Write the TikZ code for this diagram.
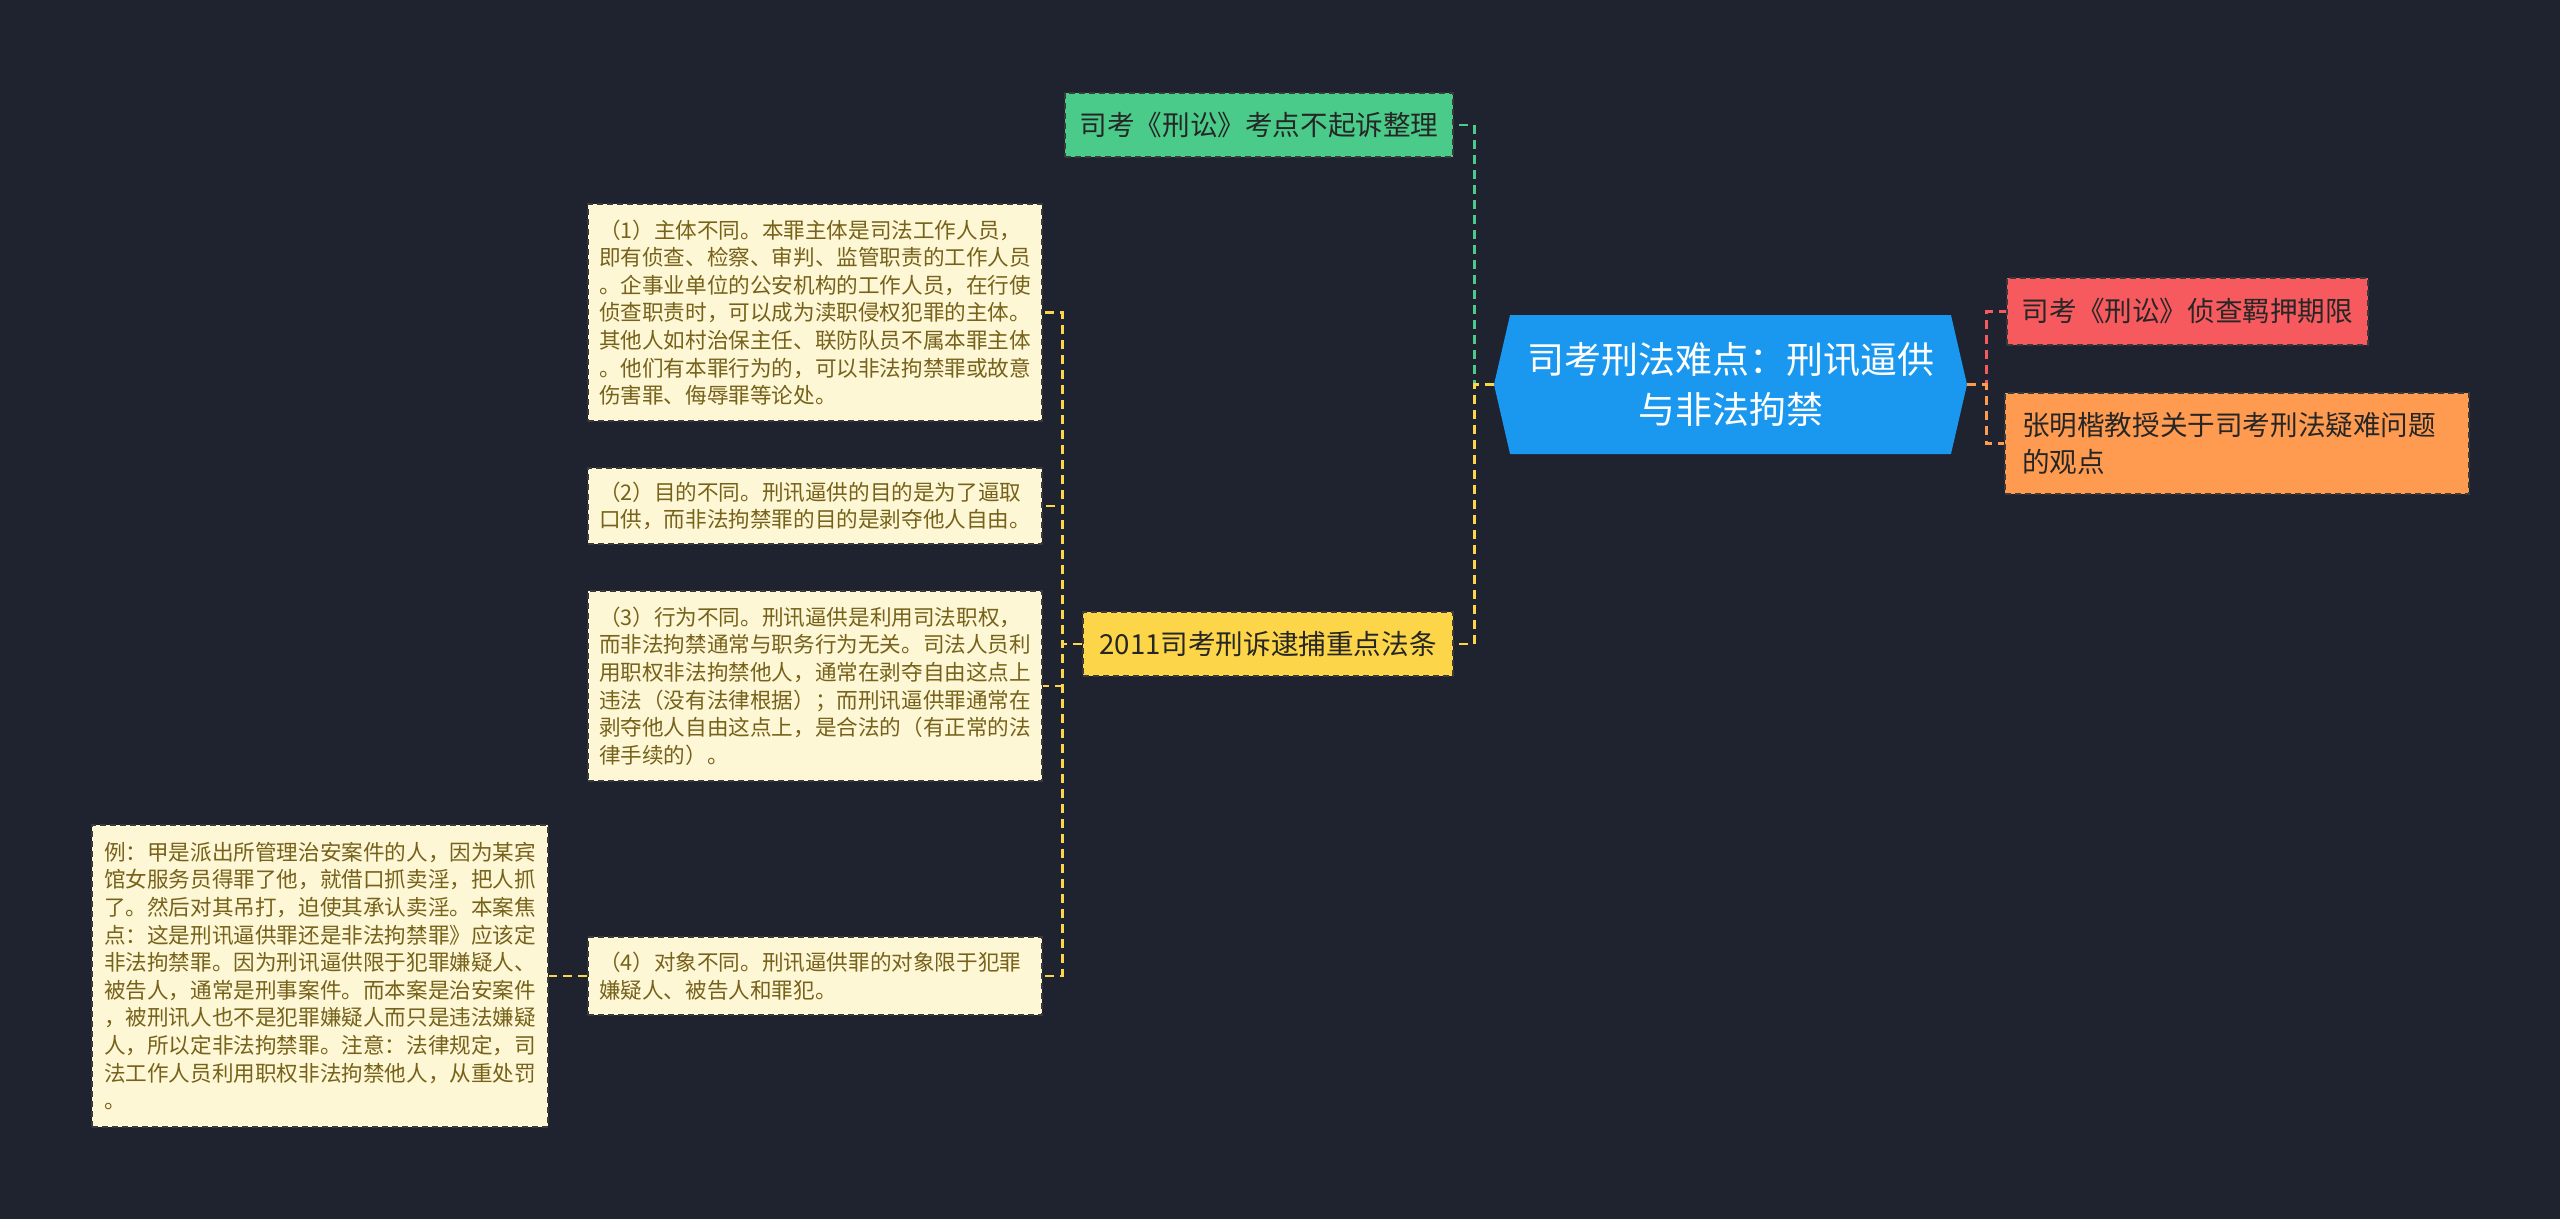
\documentclass[tikz,border=0pt]{standalone}
\usepackage{fontspec}
\newfontfamily\cjk{Noto Sans CJK SC}
\usetikzlibrary{shapes.symbols}
\definecolor{bgcol}{HTML}{1F2330}
\definecolor{boxline}{HTML}{3A3A3A}
\definecolor{topictext}{HTML}{262626}
\definecolor{notefill}{HTML}{FEF7D6}
\definecolor{notetext}{HTML}{76621A}
\definecolor{rootblue}{HTML}{1A98F0}
\definecolor{topgreen}{HTML}{4ACB89}
\definecolor{topyellow}{HTML}{FDD548}
\definecolor{topred}{HTML}{F65A5F}
\definecolor{toporange}{HTML}{FF9B50}

\begin{document}
\begin{tikzpicture}[x=1pt,y=-1pt,
  box/.style={draw=boxline,line width=1.6pt,dash pattern=on 6pt off 4pt,inner sep=0pt,text=topictext},
  topic/.style={box,font=\cjk\fontsize{27.6}{37}\selectfont},
  note/.style={box,fill=notefill,text=notetext,align=left,text width=432pt,inner xsep=11pt,minimum width=454pt,font=\cjk\fontsize{21.6}{27.6}\selectfont},
  link/.style={line width=2.6pt,dash pattern=on 9pt off 6pt}]
  % background, sets the page size
  \fill[bgcol](0,0)rectangle(2560,1219);
  % root
  \node[signal,signal to=west and east,signal pointer angle=154,fill=rootblue,text=white,align=center,
    minimum width=473pt,minimum height=139pt,inner sep=0pt,font=\cjk\fontsize{37}{50}\selectfont]
    (root) at(1730.5,384.5){司考刑法难点：刑讯逼供\\与非法拘禁};
  % left topics
  \node[topic,fill=topgreen,minimum width=388pt,minimum height=64pt] (kaodian) at(1259,125){司考《刑讼》考点不起诉整理};
  \node[topic,fill=topyellow,minimum width=370pt,minimum height=64pt] (daibu) at(1268,644){2011司考刑诉逮捕重点法条};
  % right topics
  \node[topic,fill=topred,minimum width=361pt,minimum height=67pt] (zhencha) at(2187.5,311.5){司考《刑讼》侦查羁押期限};
  \node[topic,fill=toporange,align=left,text width=430pt,inner xsep=17pt,minimum height=101pt,
    font=\cjk\fontsize{27.6}{37.5}\selectfont] (guandian) at(2237,443.5){张明楷教授关于司考刑法疑难问题\\的观点};
  % notes under daibu
  \node[note,minimum height=217pt] (zhuti) at(815,312.5){（1）主体不同。本罪主体是司法工作人员，\\即有侦查、检察、审判、监管职责的工作人员\\。企事业单位的公安机构的工作人员，在行使\\侦查职责时，可以成为渎职侵权犯罪的主体。\\其他人如村治保主任、联防队员不属本罪主体\\。他们有本罪行为的，可以非法拘禁罪或故意\\伤害罪、侮辱罪等论处。};
  \node[note,minimum height=76pt] (mudi) at(815,506){（2）目的不同。刑讯逼供的目的是为了逼取\\口供，而非法拘禁罪的目的是剥夺他人自由。};
  \node[note,minimum height=190pt] (xingwei) at(815,686){（3）行为不同。刑讯逼供是利用司法职权，\\而非法拘禁通常与职务行为无关。司法人员利\\用职权非法拘禁他人，通常在剥夺自由这点上\\违法（没有法律根据）；而刑讯逼供罪通常在\\剥夺他人自由这点上，是合法的（有正常的法\\律手续的）。};
  \node[note,minimum height=78pt] (duixiang) at(815,976){（4）对象不同。刑讯逼供罪的对象限于犯罪\\嫌疑人、被告人和罪犯。};
  \node[note,minimum width=456pt,minimum height=302pt] (li) at(320,976){例：甲是派出所管理治安案件的人，因为某宾\\馆女服务员得罪了他，就借口抓卖淫，把人抓\\了。然后对其吊打，迫使其承认卖淫。本案焦\\点：这是刑讯逼供罪还是非法拘禁罪》应该定\\非法拘禁罪。因为刑讯逼供限于犯罪嫌疑人、\\被告人，通常是刑事案件。而本案是治安案件\\，被刑讯人也不是犯罪嫌疑人而只是违法嫌疑\\人，所以定非法拘禁罪。注意：法律规定，司\\法工作人员利用职权非法拘禁他人，从重处罚\\。};
  % connectors
  \draw[link,topgreen](root.west)--++(-19.5,0)|-(kaodian.east);
  \draw[link,topyellow](root.west)--++(-19.5,0)|-(daibu.east);
  \draw[link,topred](root.east)--++(19,0)|-(zhencha.west);
  \draw[link,toporange](root.east)--++(19,0)|-(guandian.west);
  \foreach \n in {zhuti,mudi,xingwei,duixiang}
    \draw[link,topyellow](daibu.west)--++(-20,0)|-(\n.east);
  \draw[link,topyellow](duixiang.west)--(li.east);
\end{tikzpicture}
\end{document}
